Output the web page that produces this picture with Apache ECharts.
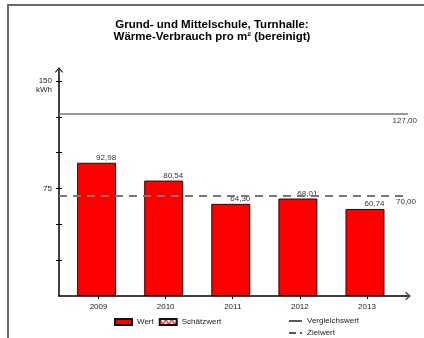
<!DOCTYPE html>
<html>
<head>
<meta charset="utf-8">
<script src="https://cdn.jsdelivr.net/npm/echarts@6/dist/echarts.min.js"></script>
<style>html,body{margin:0;padding:0;background:#fff}#c{width:424px;height:338px}</style>
</head>
<body>
<div id="c"></div>
<script>
var categories = ['2009', '2010', '2011', '2012', '2013'];
var values = [92.98, 80.54, 64.30, 68.01, 60.74];
var vergleichswert = 127;
var zielwert = 70;
var yTickValues = [25, 50, 75, 100, 125, 150];
var yLabelValues = [75, 150];

function fmt(v) { return v.toFixed(2).replace('.', ','); }

var pc = document.createElement('canvas');
pc.width = 6; pc.height = 6;
var px = pc.getContext('2d');
px.fillStyle = '#fff'; px.fillRect(0, 0, 6, 6);
px.strokeStyle = '#ff0000'; px.lineWidth = 1.2;
px.beginPath(); px.moveTo(0, 0); px.lineTo(3, 6); px.lineTo(6, 0); px.stroke();

var chevron = 'path://M0,0 L6,7 L5,8 L0,2 L-5,8 L-6,7 Z';
var font = 'Liberation Sans';
var solidIcon = 'path://M0,0 L13,0 L13,1.5 L0,1.5 Z';
var dashIcon = 'path://M0,0 L7,0 L7,1.5 L0,1.5 Z M11,0 L13,0 L13,1.5 L11,1.5 Z';

var chart = echarts.init(document.getElementById('c'), null, {renderer: 'canvas'});
chart.setOption({
  animation: false,
  textStyle: {fontFamily: font},
  graphic: [{
    type: 'rect', shape: {x: 8, y: 5, width: 440, height: 400},
    style: {fill: 'none', stroke: '#6a6a6a', lineWidth: 2}, silent: true
  }],
  title: {
    text: 'Grund- und Mittelschule, Turnhalle:\nWärme-Verbrauch pro m² (bereinigt)',
    left: 'center', top: 14,
    textStyle: {fontFamily: font, fontSize: 11.5, fontWeight: 'bold', color: '#000', lineHeight: 12}
  },
  legend: [{
    data: [{name: 'Wert', icon: 'rect'}, {name: 'Schätzwert', icon: 'rect'}],
    left: 114, top: 318, padding: 0, itemWidth: 17, itemHeight: 6, itemGap: 5,
    textStyle: {fontFamily: font, fontSize: 8, color: '#222'}
  }, {
    data: [{name: 'Vergleichswert', icon: solidIcon}, {name: 'Zielwert', icon: dashIcon}],
    orient: 'vertical', left: 289, top: 317, padding: 0, itemWidth: 13, itemHeight: 2, itemGap: 4,
    textStyle: {fontFamily: font, fontSize: 8, color: '#222'}
  }],
  grid: {left: 59, right: 16, top: 70, bottom: 42},
  xAxis: {
    type: 'value', min: -0.5896, max: 4.612,
    splitLine: {show: false},
    axisLine: {show: true, lineStyle: {color: '#000', width: 1.5}, symbol: ['none', chevron], symbolSize: [8, 7]},
    axisTick: {show: true, length: 3, lineStyle: {color: '#000'}, customValues: [0, 1, 2, 3, 4]},
    axisLabel: {show: true, customValues: [0, 1, 2, 3, 4], formatter: function (v) { return categories[Math.round(v)]; },
      fontFamily: font, fontSize: 8, color: '#222', margin: 7}
  },
  yAxis: [{
    type: 'value', min: 0, max: 157.7,
    splitLine: {show: false},
    axisLine: {show: true, onZero: false, lineStyle: {color: '#000', width: 1.5}, symbol: ['none', chevron], symbolSize: [8, 7]},
    axisTick: {show: true, length: 3, lineStyle: {color: '#000'}, customValues: yTickValues},
    axisLabel: {show: true, customValues: yLabelValues, fontFamily: font, fontSize: 8, color: '#222', margin: 7,
      formatter: function (v) { return v === 150 ? ' \n150\nkWh' : String(v); }, lineHeight: 9}
  }, {
    type: 'value', min: 0, max: 157.7, position: 'left',
    splitLine: {show: false},
    axisLine: {show: false, onZero: false},
    axisTick: {show: true, inside: true, length: 3, lineStyle: {color: '#000'}, customValues: yTickValues},
    axisLabel: {show: false}
  }],
  series: [{
    name: 'Wert', type: 'bar', barWidth: 39,
    data: values.map(function (v, i) { return [i, v]; }),
    itemStyle: {color: '#ff0000', borderColor: '#111', borderWidth: 1},
    label: {show: true, position: ['100%', 0], align: 'right', verticalAlign: 'bottom', offset: [0, -1],
      fontFamily: font, fontSize: 8, color: '#333', formatter: function (p) { return fmt(p.value[1]); }},
    z: 2
  }, {
    name: 'Schätzwert', type: 'bar', data: [],
    itemStyle: {color: {image: pc, repeat: 'repeat'}, borderColor: '#111', borderWidth: 1}
  }, {
    name: 'Vergleichswert', type: 'line', data: [], symbol: 'none',
    itemStyle: {color: '#222'},
    lineStyle: {color: '#222', width: 1.5},
    markLine: {
      silent: true, symbol: 'none',
      lineStyle: {color: '#777', width: 1.5, type: 'solid'},
      label: {position: 'insideEndBottom', offset: [12, 0], formatter: function () { return fmt(vergleichswert); },
        fontFamily: font, fontSize: 8, color: '#333', distance: 3},
      data: [{yAxis: vergleichswert}]
    },
    z: 3
  }, {
    name: 'Zielwert', type: 'line', data: [], symbol: 'none',
    itemStyle: {color: '#222'},
    lineStyle: {color: '#222', width: 1.5},
    markLine: {
      silent: true, symbol: 'none',
      lineStyle: {color: '#777', width: 2, type: [8, 6]},
      label: {position: 'insideEndBottom', offset: [10, 0], formatter: function () { return fmt(zielwert); },
        fontFamily: font, fontSize: 8, color: '#333', distance: 2},
      data: [{yAxis: zielwert}]
    },
    z: 3
  }]
});
</script>
</body>
</html>
